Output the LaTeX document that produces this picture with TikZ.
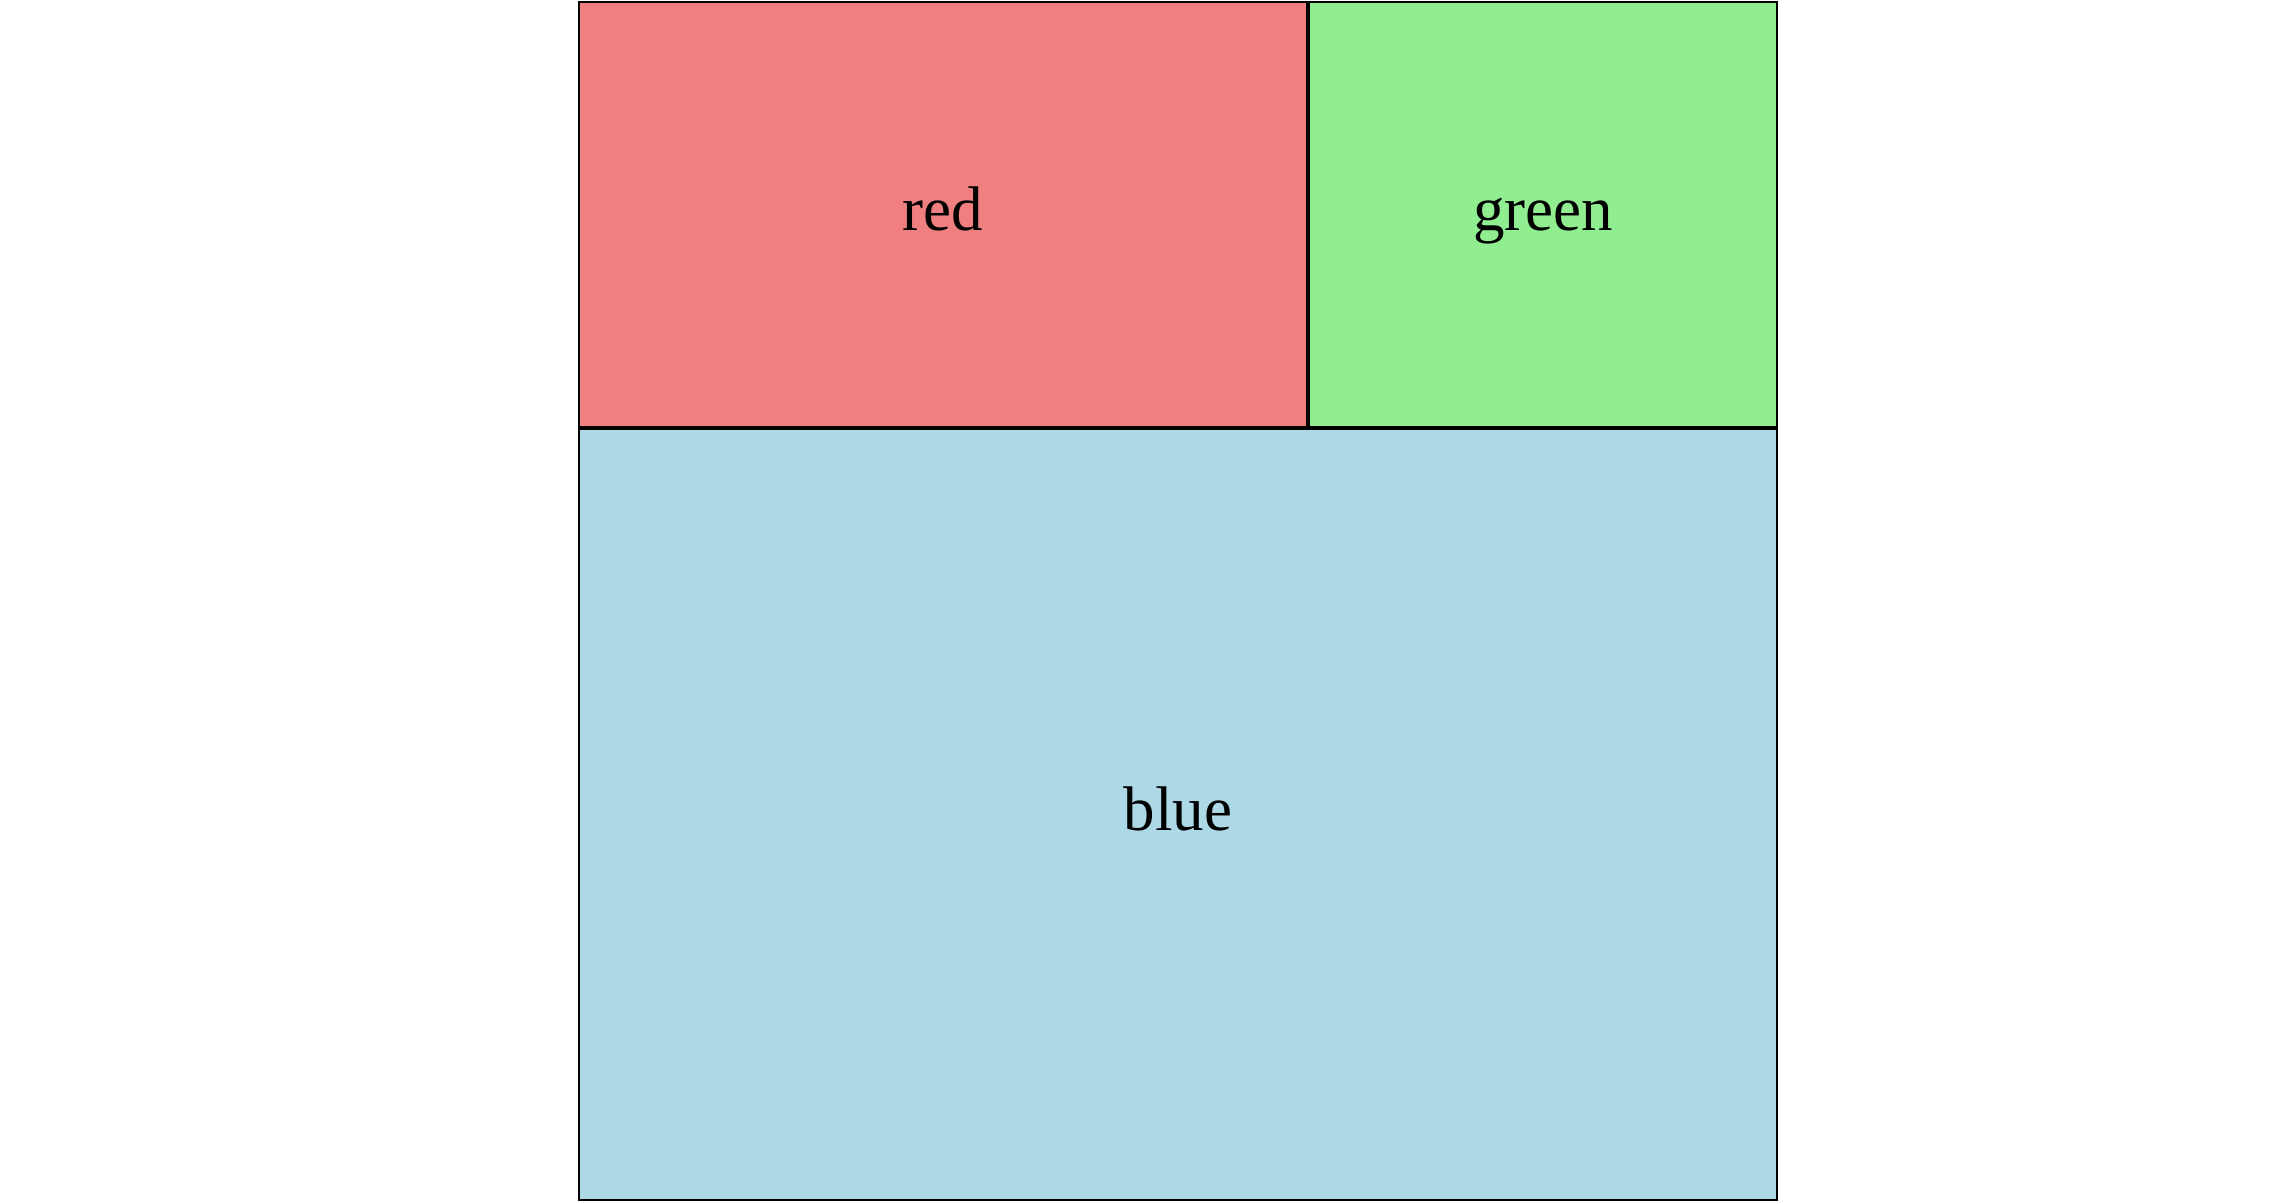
\documentclass[tikz,border=0pt]{standalone}
\usepackage{fontspec}
\setmainfont{Liberation Serif}
\definecolor{lcoral}{HTML}{F08080}
\definecolor{lgreen}{HTML}{90EE90}
\definecolor{lblue}{HTML}{ADD8E6}
\tikzset{
  region/.style={draw=black, line width=1pt, rectangle, inner sep=0pt, outer sep=0pt},
  lbl/.style={anchor=base, inner sep=0pt, font=\fontsize{31.5pt}{36pt}\selectfont}
}
\begin{document}
\begin{tikzpicture}[x=0.5pt, y=-0.5pt]
\useasboundingbox (0,0) rectangle (2286,1201);
\fill[white] (0,0) rectangle (2286,1201);
\node[region, fill=lcoral, minimum width=728pt*0.5, minimum height=425pt*0.5] (red) at (943, 214) {};
\node[region, fill=lgreen, minimum width=468pt*0.5, minimum height=425pt*0.5] (green) at (1543, 214) {};
\node[region, fill=lblue, minimum width=1198pt*0.5, minimum height=771pt*0.5] (blue) at (1178, 814) {};
\node[lbl] (redlbl) at ([yshift=-8pt]red.center) {red};
\node[lbl] (greenlbl) at ([yshift=-8pt]green.center) {green};
\node[lbl] (bluelbl) at ([yshift=-8pt]blue.center) {blue};
\end{tikzpicture}
\end{document}
